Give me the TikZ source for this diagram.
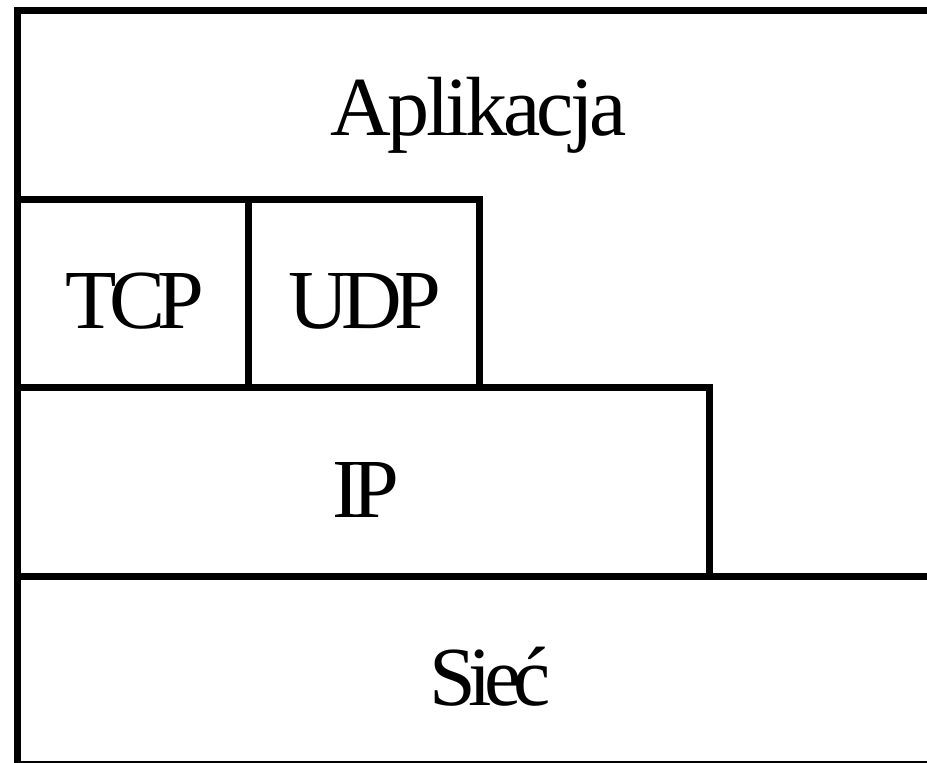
\documentclass[tikz,border=0pt]{standalone}
\usepackage{fontspec}
\setmainfont{Liberation Serif}
\newfontfamily\tightfont[LetterSpace=-9]{Liberation Serif}
\newfontfamily\looserfont[LetterSpace=-4.5]{Liberation Serif}
\begin{document}
\begin{tikzpicture}[x=1pt,y=-1pt,
  layer/.style={draw=black,line width=7pt,line join=miter},
  lbl/.style={anchor=base,inner sep=0pt,font=\tightfont\fontsize{84}{84}\selectfont},
  lbla/.style={anchor=base,inner sep=0pt,font=\looserfont\fontsize{84}{84}\selectfont}]
\useasboundingbox (0,0) rectangle (927,763);
\begin{scope}
\clip (0,0) rectangle (927,763);
\fill[white] (0,0) rectangle (927,763);
% outer frame (right side runs past the picture)
\draw[layer] (17,10) rectangle (960,764);
% Siec layer
\draw[layer] (17,576) rectangle (960,764);
% IP layer
\draw[layer] (17,387) rectangle (709,576);
% TCP and UDP
\draw[layer] (17,199) rectangle (248,387);
\draw[layer] (248,199) rectangle (479,387);
\end{scope}
\node[lbla] (app) at (479,135) {Aplikacja};
\node[lbl] (tcp) at (135,328) {TCP};
\node[lbl] (udp) at (365,328) {UDP};
\node[lbl] (ip) at (366,517) {IP};
\node[lbl] (siec) at (490,705) {Sieć};
\end{tikzpicture}
\end{document}
